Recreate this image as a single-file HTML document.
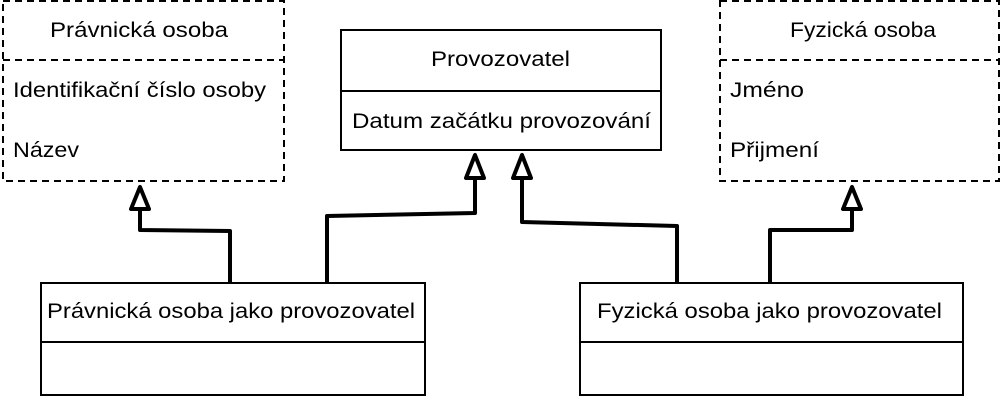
<!DOCTYPE html>
<html><head><meta charset="utf-8"><style>
body{margin:0;background:#fff;width:1002px;height:402px;overflow:hidden}
svg text{font-family:"Liberation Sans",sans-serif;font-size:21px;fill:#000}
</style></head><body>
<svg width="1002" height="402" xmlns="http://www.w3.org/2000/svg">
<g fill="none" stroke="#000" stroke-width="2">
<g stroke-dasharray="7 5">
<rect x="3" y="1" width="281" height="180"/>
<line x1="3" y1="60" x2="284" y2="60"/>
<rect x="720" y="1" width="279" height="180"/>
<line x1="720" y1="60" x2="999" y2="60"/>
</g>
<rect x="341" y="30" width="320" height="120"/>
<line x1="341" y1="91" x2="661" y2="91"/>
<rect x="41" y="283" width="384" height="112"/>
<line x1="41" y1="342" x2="425" y2="342"/>
<rect x="580" y="283" width="383" height="112"/>
<line x1="580" y1="342" x2="963" y2="342"/>
</g>
<g fill="none" stroke="#000" stroke-width="4" stroke-linejoin="round">
<polyline points="230,282 230,231 140,230 140,210"/>
<polyline points="327,282 327,216 475,213 475,180"/>
<polyline points="677,282 677,226 522,222 522,180"/>
<polyline points="770,282 770,230 852,230 852,210"/>
<polygon points="140,187 131,209 149,209" fill="#fff"/>
<polygon points="475,155 466,178 484,178" fill="#fff"/>
<polygon points="522,155 513,178 531,178" fill="#fff"/>
<polygon points="852,187 843,209 861,209" fill="#fff"/>
</g>
<text x="50" y="37" textLength="178" lengthAdjust="spacingAndGlyphs">Právnická osoba</text>
<text x="13" y="97" textLength="253" lengthAdjust="spacingAndGlyphs">Identifikační číslo osoby</text>
<text x="13" y="157" textLength="66" lengthAdjust="spacingAndGlyphs">Název</text>
<text x="431" y="66" textLength="139" lengthAdjust="spacingAndGlyphs">Provozovatel</text>
<text x="352" y="128" textLength="299" lengthAdjust="spacingAndGlyphs">Datum začátku provozování</text>
<text x="790" y="37" textLength="146" lengthAdjust="spacingAndGlyphs">Fyzická osoba</text>
<text x="730" y="97" textLength="74" lengthAdjust="spacingAndGlyphs">Jméno</text>
<text x="730" y="157" textLength="89" lengthAdjust="spacingAndGlyphs">Přijmení</text>
<text x="47" y="318" textLength="368" lengthAdjust="spacingAndGlyphs">Právnická osoba jako provozovatel</text>
<text x="597" y="318" textLength="345" lengthAdjust="spacingAndGlyphs">Fyzická osoba jako provozovatel</text>
</svg>
</body></html>
